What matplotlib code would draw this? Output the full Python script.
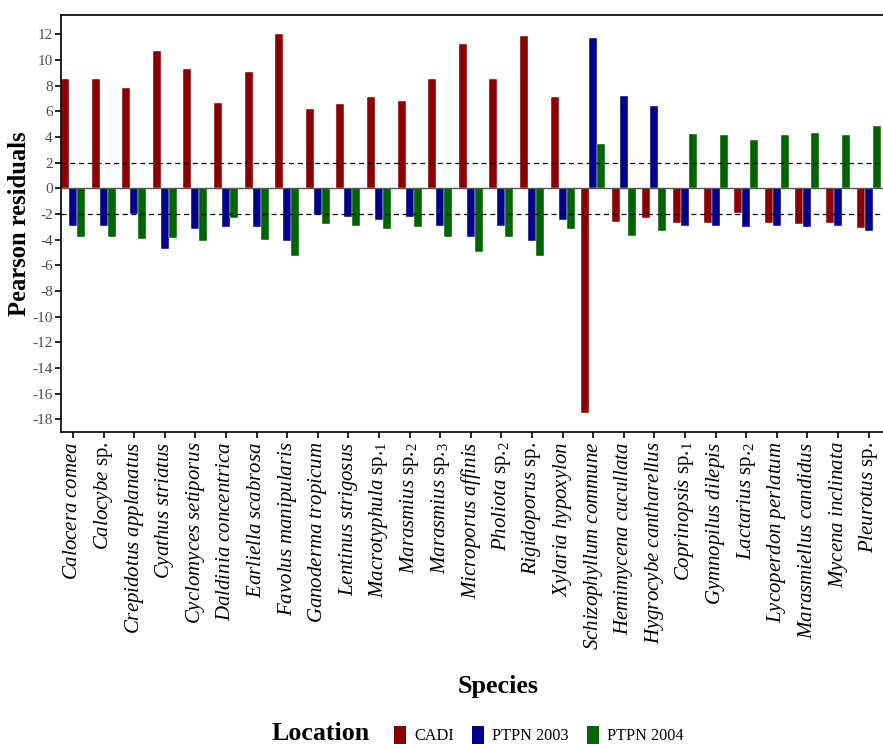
import matplotlib
matplotlib.use("Agg")
import matplotlib.pyplot as plt
import numpy as np
from matplotlib.patches import Patch

plt.rcParams['font.family'] = ['Liberation Serif', 'DejaVu Serif']
plt.rcParams['mathtext.fontset'] = 'custom'
plt.rcParams['mathtext.rm'] = 'Liberation Serif'
plt.rcParams['mathtext.it'] = 'Liberation Serif:italic'
plt.rcParams['mathtext.bf'] = 'Liberation Serif:bold'

species = [
    r'$\mathit{Calocera\ comea}$', r'$\mathit{Calocybe}$ sp.', r'$\mathit{Crepidotus\ applanatus}$',
    r'$\mathit{Cyathus\ striatus}$', r'$\mathit{Cyclomyces\ setiporus}$', r'$\mathit{Daldinia\ concentrica}$',
    r'$\mathit{Earliella\ scabrosa}$', r'$\mathit{Favolus\ manipularis}$', r'$\mathit{Ganoderma\ tropicum}$',
    r'$\mathit{Lentinus\ strigosus}$', r'$\mathit{Macrotyphula}$ sp.$_{1}$', r'$\mathit{Marasmius}$ sp.$_{2}$',
    r'$\mathit{Marasmius}$ sp.$_{3}$', r'$\mathit{Microporus\ affinis}$', r'$\mathit{Pholiota}$ sp.$_{2}$',
    r'$\mathit{Rigidoporus}$ sp.', r'$\mathit{Xylaria\ hypoxylon}$', r'$\mathit{Schizophyllum\ commune}$',
    r'$\mathit{Hemimycena\ cucullata}$', r'$\mathit{Hygrocybe\ cantharellus}$', r'$\mathit{Coprinopsis}$ sp.$_{1}$',
    r'$\mathit{Gymnopilus\ dilepis}$', r'$\mathit{Lactarius}$ sp.$_{2}$', r'$\mathit{Lycoperdon\ perlatum}$',
    r'$\mathit{Marasmiellus\ candidus}$', r'$\mathit{Mycena\ inclinata}$', r'$\mathit{Pleurotus}$ sp.',
]

cadi = [8.49, 8.49, 7.84, 10.73, 9.32, 6.62, 9.06, 12.05, 6.21, 6.60, 7.14, 6.78, 8.49,
        11.22, 8.49, 11.87, 7.14, -17.54, -2.62, -2.34, -2.70, -2.68, -1.97, -2.68, -2.81, -2.68, -3.09]
ptpn2003 = [-2.91, -2.91, -2.00, -4.75, -3.17, -3.06, -3.06, -4.10, -2.08, -2.26, -2.44, -2.26, -2.91,
            -3.84, -2.91, -4.08, -2.44, 11.71, 7.22, 6.44, -2.96, -2.91, -3.01, -2.94, -3.06, -2.94, -3.35]
ptpn2004 = [-3.77, -3.77, -3.95, -3.90, -4.08, -2.31, -4.00, -5.32, -2.75, -2.94, -3.14, -2.99, -3.77,
            -4.94, -3.77, -5.25, -3.14, 3.43, -3.71, -3.32, 4.21, 4.16, 3.79, 4.16, 4.34, 4.16, 4.81]

locations = ['CADI', 'PTPN 2003', 'PTPN 2004']
colors = ['#8B0000', '#00008B', '#006400']
yticks = list(range(-18, 13, 2))

fig = plt.figure(figsize=(8.83, 7.44), dpi=100)
ax = fig.add_axes([61/883, 1 - 432/744, 1 - 61/883, (432 - 15)/744])

x = np.arange(len(species))
w = 0.262
for i, (vals, c) in enumerate(zip([cadi, ptpn2003, ptpn2004], colors)):
    ax.bar(x + (i - 1) * w, vals, width=w, color=c, edgecolor='white', linewidth=0.3, zorder=2)

ax.axhline(0, color='#555555', lw=1.0, zorder=3)
for yv in (2, -2):
    ax.axhline(yv, color='black', lw=0.9, ls=(0, (4, 3)), zorder=4)

ax.set_xlim(-0.39, 26.47)
ax.set_ylim(-19.0, 13.5)
ax.set_yticks(yticks)
ax.set_yticklabels([str(t) for t in yticks], color='#4d4d4d', fontsize=11)
ax.set_xticks(x)
ax.set_xticklabels(species, rotation=90, fontsize=15, color='black', va='top', ha='center')
ax.tick_params(axis='both', direction='out', length=4, width=1.2, color='black')
ax.tick_params(axis='y', pad=2)
ax.tick_params(axis='x', pad=3)

for s in ['left', 'bottom', 'top']:
    ax.spines[s].set_color('black')
    ax.spines[s].set_linewidth(1.2)
ax.spines['right'].set_visible(False)

ax.set_ylabel('Pearson residuals', fontsize=17.7, fontweight='bold', labelpad=1)
fig.text(498/883, 1 - 686/744, 'Species', fontsize=18.8, fontweight='bold', ha='center', va='center')

fig.text(321/883, 1 - 733/744, 'Location', fontsize=18.7, fontweight='bold', ha='center', va='center')
handles = [Patch(facecolor=c, edgecolor='none') for c in colors]
fig.legend(handles, locations, loc='center', bbox_to_anchor=(539/883, 1 - 735/744), ncol=3,
           frameon=False, fontsize=11.7, handlelength=0.75, handleheight=1.3, handletextpad=0.5,
           columnspacing=1.1)

fig.savefig('out.png', dpi=100, facecolor='white')
